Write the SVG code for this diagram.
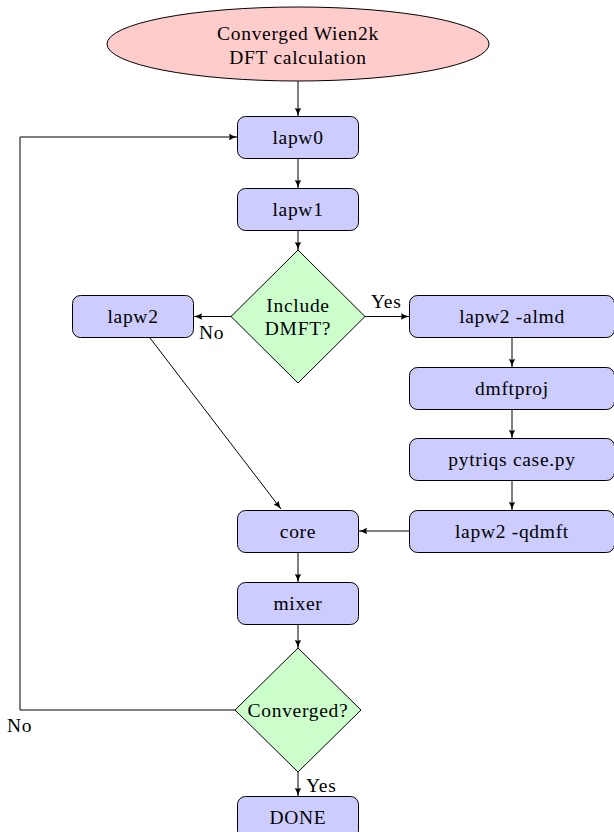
<svg xmlns="http://www.w3.org/2000/svg" width="614" height="832" viewBox="0 0 614 832">
<style>
.box{fill:#ccccff;stroke:#000;stroke-width:1}
.dia{fill:#ccffcc;stroke:#000;stroke-width:1}
.ell{fill:#ffcccc;stroke:#000;stroke-width:1}
.t{font-family:"Liberation Serif","DejaVu Serif",serif;font-size:19.5px;letter-spacing:0.7px;fill:#000;text-anchor:middle;dominant-baseline:central}
.l{font-family:"Liberation Serif","DejaVu Serif",serif;font-size:19.5px;letter-spacing:0.7px;fill:#000}
.c{fill:none;stroke:#000;stroke-width:1}
</style>
<defs>
<marker id="ah" viewBox="0 0 10 10" refX="10" refY="5" markerWidth="8" markerHeight="8" markerUnits="userSpaceOnUse" orient="auto">
<path d="M0,1 Q5,4 10,5 Q5,6 0,9 Q2,5 0,1 Z" fill="#000"/>
</marker>
</defs>
<g id="start"><ellipse class="ell" cx="298" cy="44" rx="191" ry="37"/><text class="t" x="298" y="33">Converged Wien2k</text><text class="t" x="298" y="57">DFT calculation</text></g>
<g id="lapw0"><rect class="box" x="237.5" y="116.5" width="121" height="42" rx="8"/><text class="t" x="298" y="137">lapw0</text></g>
<g id="lapw1"><rect class="box" x="237.5" y="188.5" width="121" height="42" rx="8"/><text class="t" x="298" y="209">lapw1</text></g>
<g id="dmftq"><polygon class="dia" points="298,250 365,316.5 298,383 231,316.5"/><text class="t" x="298" y="305">Include</text><text class="t" x="298" y="328">DMFT?</text></g>
<g id="lapw2"><rect class="box" x="72.5" y="295.5" width="121" height="42" rx="8"/><text class="t" x="133" y="316">lapw2</text></g>
<g id="almd"><rect class="box" x="409.5" y="295.5" width="205" height="42" rx="8"/><text class="t" x="512" y="316">lapw2 -almd</text></g>
<g id="dmftproj"><rect class="box" x="409.5" y="367.5" width="205" height="42" rx="8"/><text class="t" x="512" y="388">dmftproj</text></g>
<g id="pytriqs"><rect class="box" x="409.5" y="438.5" width="205" height="42" rx="8"/><text class="t" x="512" y="459">pytriqs case.py</text></g>
<g id="qdmft"><rect class="box" x="409.5" y="510.5" width="205" height="42" rx="8"/><text class="t" x="512" y="531">lapw2 -qdmft</text></g>
<g id="core"><rect class="box" x="237.5" y="510.5" width="121" height="42" rx="8"/><text class="t" x="298" y="531">core</text></g>
<g id="mixer"><rect class="box" x="237.5" y="582.5" width="121" height="42" rx="8"/><text class="t" x="298" y="603">mixer</text></g>
<g id="conv"><polygon class="dia" points="298,648 361,710 298,772 235,710"/><text class="t" x="298" y="710">Converged?</text></g>
<g id="done"><rect class="box" x="237.5" y="796.5" width="121" height="42" rx="8"/><text class="t" x="298" y="817">DONE</text></g>
<g id="connectors">
<path class="c" d="M298,81 V116" marker-end="url(#ah)"/>
<path class="c" d="M298,159 V188" marker-end="url(#ah)"/>
<path class="c" d="M298,231 V250" marker-end="url(#ah)"/>
<path class="c" d="M231,316.5 H194" marker-end="url(#ah)"/>
<path class="c" d="M365,316.5 H409" marker-end="url(#ah)"/>
<path class="c" d="M512,338 V367" marker-end="url(#ah)"/>
<path class="c" d="M512,410 V438" marker-end="url(#ah)"/>
<path class="c" d="M512,481 V510" marker-end="url(#ah)"/>
<path class="c" d="M409,531 H359" marker-end="url(#ah)"/>
<path class="c" d="M150,338 L281,509" marker-end="url(#ah)"/>
<path class="c" d="M298,553 V582" marker-end="url(#ah)"/>
<path class="c" d="M298,625 V648" marker-end="url(#ah)"/>
<path class="c" d="M298,772 V796" marker-end="url(#ah)"/>
<path class="c" d="M235,710 H20 V137 H237" marker-end="url(#ah)"/>
<text class="l" x="371" y="308">Yes</text>
<text class="l" x="199" y="339">No</text>
<text class="l" x="306" y="792">Yes</text>
<text class="l" x="7" y="732">No</text>
</g>
</svg>
